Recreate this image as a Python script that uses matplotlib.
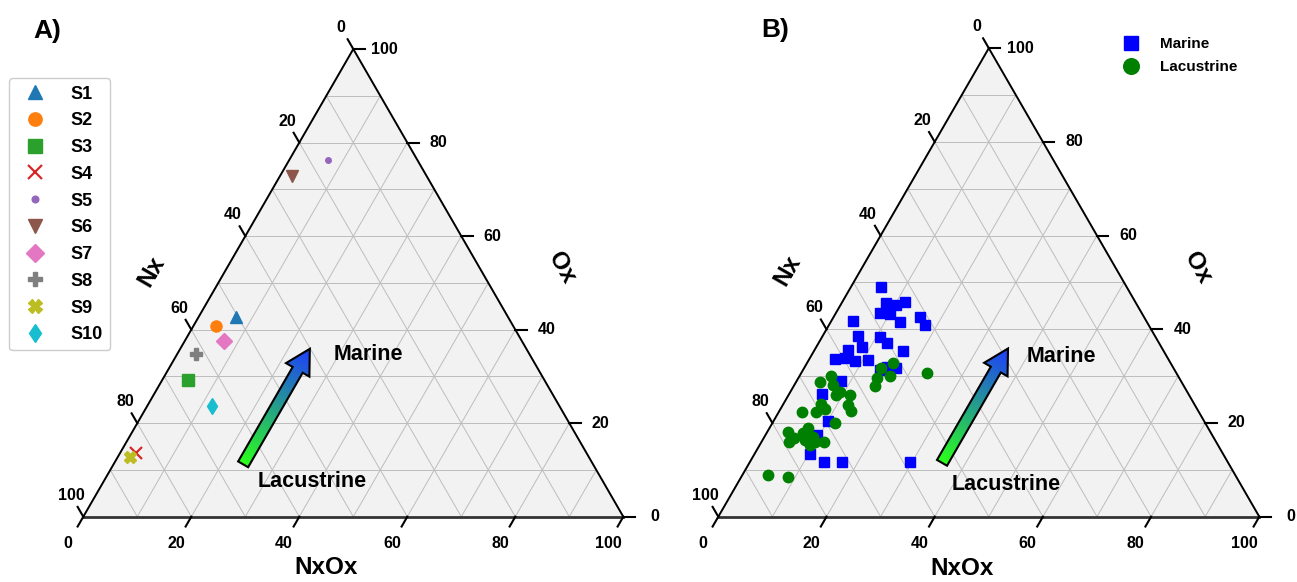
import numpy as np
import matplotlib
matplotlib.use('Agg')
import matplotlib.pyplot as plt
from matplotlib.patches import Polygon
from matplotlib.colors import LinearSegmentedColormap

plt.rcParams['font.family'] = ['Liberation Sans', 'DejaVu Sans']
plt.rcParams['font.weight'] = 'bold'

# ---- data (percent): Nx, Ox, NxOx ----
# panel A, one sample per series
samples = ['S1', 'S2', 'S3', 'S4', 'S5', 'S6', 'S7', 'S8', 'S9', 'S10']
nx_a = [50.4, 55.0, 66.0, 83.4, 16.6, 25.0, 55.1, 61.8, 85.0, 64.4]
ox_a = [42.7, 40.8, 29.2, 13.7, 76.2, 72.7, 37.6, 34.7, 12.7, 23.7]
nxox_a = [6.9, 4.2, 4.7, 2.9, 7.2, 2.2, 7.3, 3.5, 2.3, 11.9]
markers_a = ['^', 'o', 's', 'x', '.', 'v', 'D', 'P', 'X', 'd']
colors_a = ['#1f77b4', '#ff7f0e', '#2ca02c', '#d62728', '#9467bd',
            '#8c564b', '#e377c2', '#7f7f7f', '#bcbd22', '#17becf']

# panel B
nx_marine = [45.5, 46.2, 44.5, 42.5, 48.4, 46.7, 45.6, 41.4, 41.3, 54.2,
             54.8, 55.2, 51.0, 50.3, 48.1, 58.3, 61.6, 59.7, 58.1, 55.5,
             54.5, 52.9, 51.3, 62.9, 67.7, 69.4, 73.0, 76.4, 74.7, 71.2, 58.8]
ox_marine = [49.0, 45.7, 45.2, 45.9, 43.4, 43.3, 41.5, 42.6, 40.9, 41.8,
             38.6, 36.3, 38.3, 37.0, 35.4, 35.6, 33.6, 33.8, 33.3, 33.5,
             31.3, 31.9, 31.7, 29.0, 26.1, 20.5, 17.4, 13.4, 11.7, 11.7, 11.7]
nxox_marine = [5.6, 8.1, 10.3, 11.6, 8.2, 10.0, 12.9, 16.0, 17.8, 4.0,
               6.6, 8.5, 10.7, 12.7, 16.5, 6.1, 4.8, 6.5, 8.6, 11.0,
               14.2, 15.2, 17.0, 8.1, 6.2, 10.1, 9.6, 10.2, 13.6, 17.1, 29.5]

nx_lac = [51.3, 54.0, 53.2, 55.9, 57.2, 46.1, 64.1, 66.9, 64.7, 65.3,
          64.2, 62.7, 64.1, 64.2, 69.0, 70.7, 68.8, 73.3, 68.4, 78.1,
          77.6, 78.9, 75.4, 73.9, 75.8, 73.9, 75.4, 72.4, 74.1, 86.4, 82.9]
ox_lac = [32.7, 31.7, 30.1, 29.5, 27.8, 30.7, 30.1, 28.7, 28.1, 26.0,
          26.7, 26.0, 23.8, 22.6, 24.1, 22.4, 22.9, 22.3, 20.1, 18.1,
          16.7, 16.0, 17.8, 18.9, 16.4, 17.1, 15.3, 16.0, 16.0, 9.0, 8.5]
nxox_lac = [16.0, 14.3, 16.7, 14.6, 15.0, 23.2, 5.8, 4.4, 7.2, 8.7,
            9.1, 11.3, 12.1, 13.2, 6.9, 6.9, 8.3, 4.4, 11.5, 3.8,
            5.7, 5.1, 6.8, 7.2, 7.8, 9.0, 9.3, 11.6, 9.9, 4.6, 8.6]

tick_vals = [0, 20, 40, 60, 80, 100]

S3 = np.sqrt(3) / 2
W, H = 1297, 582


def tern_xy(nx, ox, nxox):
    nx, ox, nxox = (np.asarray(v, dtype=float) for v in (nx, ox, nxox))
    tot = nx + ox + nxox
    o = ox / tot
    b = nxox / tot
    return b + o / 2, o * S3


def tern_axes(fig, left_px, width_px, origin, scale):
    ax = fig.add_axes([left_px / W, 0, width_px / W, 1])
    ax.set_xlim((left_px - origin[0]) / scale, (left_px + width_px - origin[0]) / scale)
    ax.set_ylim((origin[1] - H) / scale, origin[1] / scale)
    ax.axis('off')
    return ax


def draw_frame(ax):
    tri = Polygon([[0, 0], [1, 0], [0.5, S3]], closed=True, facecolor='#f2f2f2',
                  edgecolor='none', zorder=0)
    ax.add_patch(tri)
    gkw = dict(color='#bdbdbd', lw=0.7, zorder=1)
    for k in range(10, 100, 10):
        f = k / 100
        ax.plot([f / 2, 1 - f / 2], [f * S3, f * S3], **gkw)
        ax.plot([f, f + (1 - f) / 2], [0, (1 - f) * S3], **gkw)
        ax.plot([(1 - f) / 2, 1 - f], [(1 - f) * S3, 0], **gkw)
    ax.plot([0, 0.5, 1], [0, S3, 0], color='black', lw=1.4, zorder=2)
    ax.plot([0, 1], [0, 0], color='#333333', lw=2.0, zorder=2)

    tl = 0.021
    for t in tick_vals:
        f = t / 100
        # NxOx (bottom)
        ax.plot([f, f - 0.5 * tl], [0, -S3 * tl], color='black', lw=1.5, zorder=2)
        ax.text(f - 0.5 * 0.057, -S3 * 0.057, str(t), ha='center', va='center', fontsize=11.5)
        # Nx (left)
        px, py = (1 - f) / 2, (1 - f) * S3
        ax.plot([px, px - 0.5 * tl], [py, py + S3 * tl], color='black', lw=1.5, zorder=2)
        ax.text(px - 0.5 * 0.046, py + S3 * 0.046, str(t), ha='center', va='center', fontsize=11.5)
        # Ox (right)
        px, py = 1 - f / 2, f * S3
        ax.plot([px, px + tl], [py, py], color='black', lw=1.5, zorder=2)
        ax.text(px + 0.058, py, str(t), ha='center', va='center', fontsize=11.5)

    ax.text(0.45, -0.095, 'NxOx', ha='center', va='center', fontsize=17.5)
    ax.text(0.127, 0.455, 'Nx', ha='center', va='center', fontsize=17.5, rotation=60)
    ax.text(0.886, 0.461, 'Ox', ha='center', va='center', fontsize=17.5, rotation=-60)


cmap = LinearSegmentedColormap.from_list('lac_mar', ['#2bff1a', '#1f3cff'])


def gradient_arrow(ax, nxox, ox0, ox1):
    x0, y0 = tern_xy(100 - nxox - ox0, ox0, nxox)
    x1, y1 = tern_xy(100 - nxox - ox1, ox1, nxox)
    tail = np.array([x0, y0])
    tip = np.array([x1, y1])
    L = np.linalg.norm(tip - tail)
    d = (tip - tail) / L
    p = np.array([-d[1], d[0]])
    w, hw, hl = 0.0107, 0.025, 0.045
    base = tip - d * hl
    pts = np.array([tail + p * w, base + p * w, base + p * hw, tip,
                    base - p * hw, base - p * w, tail - p * w])
    poly = Polygon(pts, closed=True, facecolor='none', edgecolor='black',
                   lw=1.5, zorder=3.5)
    ax.add_patch(poly)
    xmin, ymin = pts.min(axis=0)
    xmax, ymax = pts.max(axis=0)
    gx, gy = np.meshgrid(np.linspace(xmin, xmax, 200), np.linspace(ymin, ymax, 200))
    tval = np.clip(((gx - tail[0]) * d[0] + (gy - tail[1]) * d[1]) / L, 0, 1)
    im = ax.imshow(tval, cmap=cmap, extent=[xmin, xmax, ymin, ymax], origin='lower',
                   aspect='auto', zorder=3, interpolation='bilinear')
    im.set_clip_path(poly)


fig = plt.figure(figsize=(12.97, 5.82), dpi=100)

# ---- panel A ----
axA = tern_axes(fig, 0, 648, (83.3, 516.7), 540.0)
xlim, ylim = axA.get_xlim(), axA.get_ylim()
draw_frame(axA)
gradient_arrow(axA, 24.0, 11.2, 35.9)
axA.set_xlim(xlim)
axA.set_ylim(ylim)
axA.text(0.528, 0.301, 'Marine', ha='center', va='center', fontsize=15.5, zorder=5)
axA.text(0.424, 0.065, 'Lacustrine', ha='center', va='center', fontsize=15.5, zorder=5)
for i, s in enumerate(samples):
    x, y = tern_xy(nx_a[i], ox_a[i], nxox_a[i])
    axA.plot(x, y, marker=markers_a[i], ls='none', ms=8, color=colors_a[i],
             mew=1.6 if markers_a[i] == 'x' else 1.0, label=s, zorder=4)
axA.legend(loc='upper left', bbox_to_anchor=(9.3 / W, 1 - 78.3 / H),
           bbox_transform=fig.transFigure, borderaxespad=0, fontsize=13,
           markerscale=1.2, handletextpad=1.0, labelspacing=0.54,
           frameon=True, fancybox=True, edgecolor='#cccccc', framealpha=1)
fig.text(47.5 / W, 1 - 31 / H, 'A)', ha='center', va='center', fontsize=19)

# ---- panel B ----
axB = tern_axes(fig, 648, 649, (718.3, 516.7), 541.0)
xlim, ylim = axB.get_xlim(), axB.get_ylim()
draw_frame(axB)
gradient_arrow(axB, 35.6, 11.5, 35.9)
axB.set_xlim(xlim)
axB.set_ylim(ylim)
axB.text(0.635, 0.296, 'Marine', ha='center', va='center', fontsize=15.5, zorder=5)
axB.text(0.532, 0.059, 'Lacustrine', ha='center', va='center', fontsize=15.5, zorder=5)
x, y = tern_xy(nx_marine, ox_marine, nxox_marine)
axB.plot(x, y, marker='s', ls='none', ms=6.5, color='#0000ff', label='Marine', zorder=4)
x, y = tern_xy(nx_lac, ox_lac, nxox_lac)
axB.plot(x, y, marker='o', ls='none', ms=7.5, color='#008000', label='Lacustrine', zorder=4)
axB.legend(loc='upper left', bbox_to_anchor=(1123.4 / W, 1 - 37 / H),
           bbox_transform=fig.transFigure, borderaxespad=0, borderpad=0,
           fontsize=11, markerscale=1.5, handlelength=1.0, handletextpad=1.4,
           labelspacing=0.59, frameon=False)
fig.text(775 / W, 1 - 30 / H, 'B)', ha='center', va='center', fontsize=19)

fig.savefig('out.png', dpi=100)
